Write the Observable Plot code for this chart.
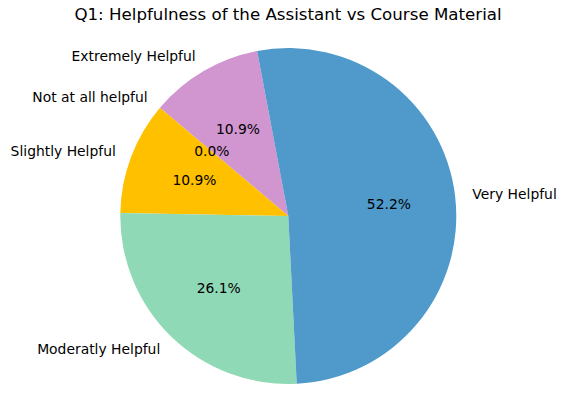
<!DOCTYPE html>
<html>
<head>
<meta charset="utf-8">
<script src="https://cdn.jsdelivr.net/npm/d3@7"></script>
<script src="https://cdn.jsdelivr.net/npm/@observablehq/plot@0.6"></script>
<style>
  html, body { margin: 0; padding: 0; background: #fff; }
  #title { width: 566px; box-sizing: border-box; padding-left: 10px; height: 35px; padding-top: 5px;
           line-height: 30px; text-align: center;
           font: 16.67px "DejaVu Sans", sans-serif; color: #000; white-space: nowrap; }
  #chart svg { display: block; }
</style>
</head>
<body>
<div id="title">Q1: Helpfulness of the Assistant vs Course Material</div>
<div id="chart"></div>
<script>
// Data (order as drawn, counter-clockwise from start angle)
const categories = ["Extremely Helpful", "Not at all helpful", "Slightly Helpful", "Moderatly Helpful", "Very Helpful"];
const counts = [5, 0, 5, 12, 24];
const colors = ["#d195d0", "#8c8c8c", "#ffc000", "#90d9b7", "#4f9acb"];
const startAngle = 100.7; // degrees, counter-clockwise from east

const W = 566, H = 376;
const cx = 288.3, cy = 181, R = 168;

const total = d3.sum(counts);
let acc = startAngle;
const slices = categories.map((name, i) => {
  const span = counts[i] / total * 360;
  const t1 = acc, t2 = acc + span;
  acc = t2;
  const mid = (t1 + t2) / 2 * Math.PI / 180;
  return {
    name, value: counts[i], color: colors[i], t1, t2,
    pct: (counts[i] / total * 100).toFixed(1) + "%",
    lx: 1.1 * Math.cos(mid), ly: 1.1 * Math.sin(mid),
    px: 0.6 * Math.cos(mid), py: 0.6 * Math.sin(mid)
  };
});

const arc = d3.arc();
function pieMark(index, scales) {
  const x0 = scales.x(0), y0 = scales.y(0);
  const r = scales.x(1) - scales.x(0);
  const g = d3.create("svg:g");
  for (const s of slices) {
    if (s.value === 0) continue;
    g.append("path")
      .attr("transform", `translate(${x0},${y0})`)
      .attr("d", arc({innerRadius: 0, outerRadius: r,
        startAngle: (90 - s.t2) * Math.PI / 180,
        endAngle: (90 - s.t1) * Math.PI / 180}))
      .attr("fill", s.color);
  }
  return g.node();
}

const font = "DejaVu Sans";
const fs = 13.89;
const plot = Plot.plot({
  width: W, height: H,
  margin: 0,
  x: {domain: [-cx / R, (W - cx) / R], axis: null},
  y: {domain: [-(H - cy) / R, cy / R], axis: null},
  style: {fontFamily: font, background: "white"},
  marks: [
    pieMark,
    Plot.text(slices.filter(d => d.lx < 0), {x: "lx", y: "ly", text: "name", textAnchor: "end",
      fontSize: fs, fill: "#000", fontFamily: font}),
    Plot.text(slices.filter(d => d.lx >= 0), {x: "lx", y: "ly", text: "name", textAnchor: "start",
      fontSize: fs, fill: "#000", fontFamily: font}),
    Plot.text(slices, {x: "px", y: "py", text: "pct", textAnchor: "middle",
      fontSize: fs, fill: "#000", fontFamily: font})
  ]
});
document.getElementById("chart").appendChild(plot);
</script>
</body>
</html>
